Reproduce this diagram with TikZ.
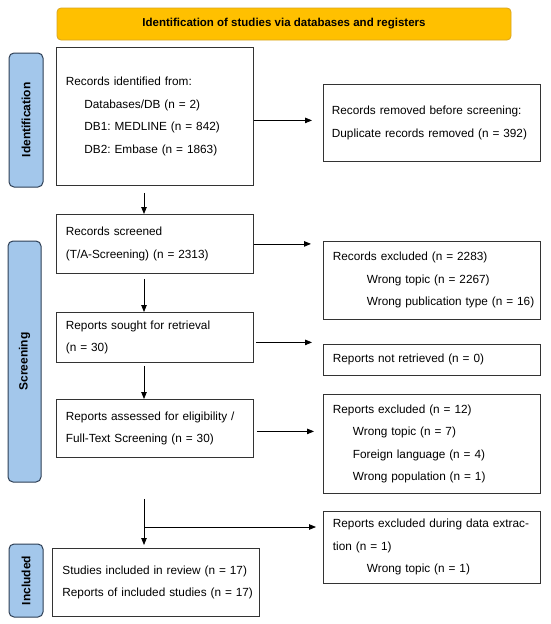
\documentclass[tikz,border=0pt]{standalone}
\usepackage{fontspec}
\setmainfont{Liberation Sans}
\usetikzlibrary{arrows.meta}
\frenchspacing
\definecolor{phasefill}{HTML}{A3C7EB}
\definecolor{phaseline}{HTML}{2E3F55}
\definecolor{bannerfill}{HTML}{FFC000}
\definecolor{bannerline}{HTML}{D9A520}
\definecolor{boxline}{HTML}{333333}
\newcommand\rowtxt[2][0pt]{\mbox{\hspace*{#1}#2}}
\begin{document}
\begin{tikzpicture}[x=1pt,y=-1pt,
  box/.style={draw=boxline, line width=0.8pt, inner xsep=9.5pt, inner ysep=2pt,
    align=left, anchor=north west, font=\fontsize{11.8}{22.5}\selectfont},
  phase/.style={draw=phaseline, fill=phasefill, line width=1pt, rounded corners=5pt,
    rotate=90, font=\bfseries\fontsize{12}{14}\selectfont, inner sep=0pt},
  banner/.style={draw=bannerline, fill=bannerfill, line width=0.8pt, rounded corners=4pt,
    font=\bfseries\fontsize{11.5}{14}\selectfont, inner sep=0pt},
  arr/.style={draw=black, line width=0.8pt, -{Triangle[length=7pt,width=5.5pt]}}]
\useasboundingbox (0,0) rectangle (550,624);
\fill[white] (0,0) rectangle (550,624);

\node[banner, minimum width=454pt, minimum height=32pt] (ban) at (284,24)
  {Identification of studies via databases and registers};

\node[phase, minimum width=134pt, minimum height=34pt] (pid) at (26,120) {Identification};
\node[phase, minimum width=241pt, minimum height=33pt] (psc) at (24.5,361.5) {Screening};
\node[phase, minimum width=73pt, minimum height=34pt] (pin) at (26,580.5) {Included};

\node[box, minimum width=197pt, minimum height=138pt, text width=178pt] (b1) at (56,47)
  {\rowtxt{Records identified from:}\\
   \rowtxt[18.5pt]{Databases/DB (n = 2)}\\
   \rowtxt[18.5pt]{DB1: MEDLINE (n = 842)}\\
   \rowtxt[18.5pt]{DB2: Embase (n = 1863)}};
\node[box, inner xsep=8.5pt, minimum width=217pt, minimum height=77pt, text width=200pt] (rem) at (323,84)
  {\rowtxt{Records removed before screening:}\\
   \rowtxt{Duplicate records removed (n = 392)}};

\node[box, minimum width=197pt, minimum height=59pt, text width=178pt] (scr) at (56,214)
  {\rowtxt{Records screened}\\
   \rowtxt{(T/A-Screening) (n = 2313)}};
\node[box, minimum width=217pt, minimum height=78pt, text width=198pt] (exc) at (323,241)
  {\rowtxt{Records excluded (n = 2283)}\\
   \rowtxt[34pt]{Wrong topic (n = 2267)}\\
   \rowtxt[34pt]{Wrong publication type (n = 16)}};

\node[box, minimum width=197pt, minimum height=50pt, text width=178pt] (sou) at (56,312)
  {\rowtxt{Reports sought for retrieval}\\
   \rowtxt{(n = 30)}};
\node[box, minimum width=217pt, minimum height=31pt, text width=198pt] (nre) at (323,344)
  {\rowtxt{Reports not retrieved (n = 0)}};

\node[box, minimum width=197pt, minimum height=58pt, text width=178pt] (ass) at (56,399)
  {\makebox[177pt][s]{Reports assessed for eligibility /}\\
   \rowtxt{Full-Text Screening (n = 30)}};
\node[box, minimum width=217pt, minimum height=99pt, text width=198pt] (ex12) at (323,394)
  {\rowtxt{Reports excluded (n = 12)}\\
   \rowtxt[20pt]{Wrong topic (n = 7)}\\
   \rowtxt[20pt]{Foreign language (n = 4)}\\
   \rowtxt[20pt]{Wrong population (n = 1)}};

\node[box, minimum width=217pt, minimum height=72pt, text width=198pt] (dex) at (323,511)
  {\rowtxt{Reports excluded during data extrac-}\\
   \rowtxt{tion (n = 1)}\\
   \rowtxt[34pt]{Wrong topic (n = 1)}};
\node[box, inner xsep=10pt, minimum width=207pt, minimum height=68pt, text width=187pt] (inc) at (52,548)
  {\rowtxt{Studies included in review (n = 17)}\\
   \rowtxt{Reports of included studies (n = 17)}};

\coordinate (ax) at (144,0);
\coordinate (br) at (144,527);

\draw[arr, shorten <=7pt] (b1.south -| ax) -- (scr.north -| ax);
\draw[arr, shorten <=5pt] (scr.south -| ax) -- (sou.north -| ax);
\draw[arr, shorten <=3pt] (sou.south -| ax) -- (ass.north -| ax);
\draw[arr, shorten <=41pt, shorten >=3pt] (ass.south -| ax) -- (inc.north -| ax);
\draw[arr, shorten >=7pt] (br) -- (br -| dex.west);

\draw[arr, shorten >=11pt] ([yshift=-4pt]b1.east) -- ([yshift=-4pt]b1.east -| rem.west);
\draw[arr, shorten >=12pt] (scr.east) -- (scr.east -| exc.west);
\draw[arr, shorten <=2pt, shorten >=11pt] ([yshift=-5pt]sou.east) -- ([yshift=-5pt]sou.east -| nre.west);
\draw[arr, shorten <=3pt, shorten >=9pt] ([yshift=-3pt]ass.east) -- ([yshift=-3pt]ass.east -| ex12.west);
\end{tikzpicture}
\end{document}
